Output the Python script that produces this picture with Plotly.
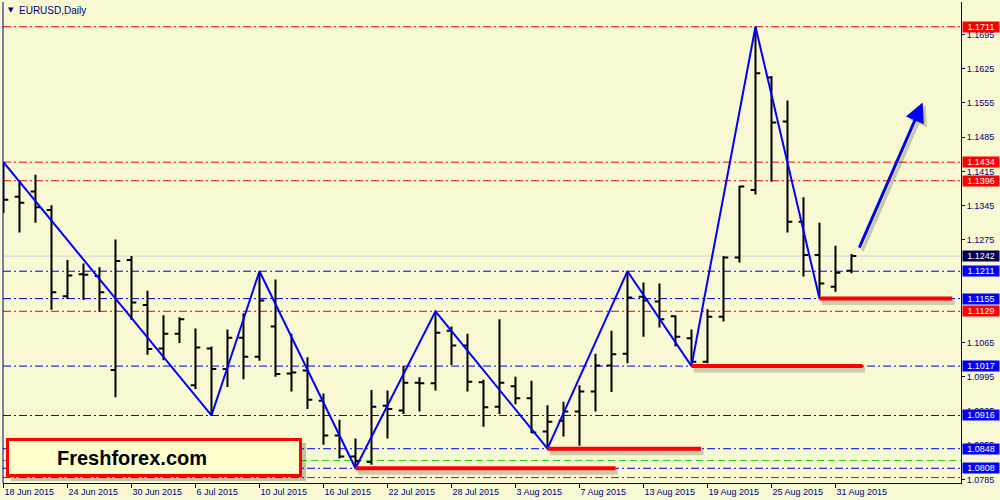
import plotly.graph_objects as go

# ---------------- data ----------------
dates = ["2015-06-18", "2015-06-19", "2015-06-22", "2015-06-23", "2015-06-24", "2015-06-25",
         "2015-06-26", "2015-06-29", "2015-06-30", "2015-07-01", "2015-07-02", "2015-07-03",
         "2015-07-06", "2015-07-07", "2015-07-08", "2015-07-09", "2015-07-10", "2015-07-13",
         "2015-07-14", "2015-07-15", "2015-07-16", "2015-07-17", "2015-07-20", "2015-07-21",
         "2015-07-22", "2015-07-23", "2015-07-24", "2015-07-27", "2015-07-28", "2015-07-29",
         "2015-07-30", "2015-07-31", "2015-08-03", "2015-08-04", "2015-08-05", "2015-08-06",
         "2015-08-07", "2015-08-10", "2015-08-11", "2015-08-12", "2015-08-13", "2015-08-14",
         "2015-08-17", "2015-08-18", "2015-08-19", "2015-08-20", "2015-08-21", "2015-08-24",
         "2015-08-25", "2015-08-26", "2015-08-27", "2015-08-28", "2015-08-31", "2015-09-01"]

opens = [1.1335, 1.1363, 1.1374, 1.1336, 1.1160, 1.1205, 1.1201, 1.1009, 1.1234, 1.1142,
         1.1053, 1.1083, 1.0978, 1.1053, 1.1011, 1.1075, 1.1036, 1.1098, 1.1002, 1.1008,
         1.0946, 1.0875, 1.0832, 1.0821, 1.0936, 1.0926, 1.0983, 1.0982, 1.1089, 1.1059,
         1.0984, 1.0934, 1.0976, 1.0951, 1.0883, 1.0905, 1.0924, 1.0965, 1.1018, 1.1042,
         1.1159, 1.1149, 1.1119, 1.1074, 1.1026, 1.1118, 1.1239, 1.1377, 1.1607, 1.1517,
         1.1312, 1.1244, 1.1179, 1.1212]
highs = [1.1434, 1.1396, 1.1408, 1.1346, 1.1234, 1.1227, 1.1219, 1.1276, 1.1242, 1.1171,
         1.1121, 1.1117, 1.1094, 1.1057, 1.1092, 1.1125, 1.1211, 1.1194, 1.1083, 1.1035,
         1.0961, 1.0907, 1.0869, 1.0968, 1.0967, 1.1017, 1.0994, 1.1129, 1.1098, 1.1083,
         1.0989, 1.1113, 1.0995, 1.0987, 1.0937, 1.0944, 1.0978, 1.1042, 1.1089, 1.1211,
         1.1188, 1.1186, 1.1121, 1.1092, 1.1133, 1.1242, 1.1386, 1.1711, 1.1610, 1.1560,
         1.1362, 1.1310, 1.1263, 1.1246]
lows = [1.1330, 1.1290, 1.1310, 1.1132, 1.1154, 1.1152, 1.1128, 1.0953, 1.1111, 1.1040,
        1.1029, 1.1064, 1.0970, 1.0916, 1.0974, 1.0990, 1.1028, 1.0995, 1.0965, 1.0929,
        1.0856, 1.0828, 1.0808, 1.0815, 1.0869, 1.0919, 1.0924, 1.0967, 1.1019, 1.0965,
        1.0893, 1.0919, 1.0939, 1.0880, 1.0848, 1.0873, 1.0854, 1.0924, 1.0964, 1.1023,
        1.1077, 1.1096, 1.1057, 1.1017, 1.1023, 1.1108, 1.1229, 1.1368, 1.1394, 1.1290,
        1.1200, 1.1155, 1.1169, 1.1207]
closes = [1.1357, 1.1351, 1.1342, 1.1168, 1.1202, 1.1204, 1.1168, 1.1232, 1.1147, 1.1052,
          1.1083, 1.1113, 1.1055, 1.1011, 1.1075, 1.1036, 1.1151, 1.1001, 1.1004, 1.0948,
          1.0875, 1.0832, 1.0823, 1.0934, 1.0929, 1.0983, 1.0982, 1.1085, 1.1059, 1.0985,
          1.0933, 1.0983, 1.0951, 1.0881, 1.0903, 1.0924, 1.0965, 1.1018, 1.1041, 1.1157,
          1.1151, 1.1113, 1.1077, 1.1026, 1.1118, 1.1239, 1.1384, 1.1616, 1.1515, 1.1312,
          1.1244, 1.1186, 1.1208, 1.1242]

zigzag_dates = ["2015-06-18", "2015-07-07", "2015-07-10", "2015-07-20", "2015-07-27",
                "2015-08-05", "2015-08-12", "2015-08-18", "2015-08-24", "2015-08-28"]
zigzag_prices = [1.1434, 1.0916, 1.1211, 1.0808, 1.1129, 1.0848, 1.1211, 1.1017, 1.1711, 1.1155]

tick_dates = ["2015-06-18", "2015-06-24", "2015-06-30", "2015-07-06", "2015-07-10",
              "2015-07-16", "2015-07-22", "2015-07-28", "2015-08-03", "2015-08-07",
              "2015-08-13", "2015-08-19", "2015-08-25", "2015-08-31"]
tick_labels = ["18 Jun 2015", "24 Jun 2015", "30 Jun 2015", "6 Jul 2015", "10 Jul 2015",
               "16 Jul 2015", "22 Jul 2015", "28 Jul 2015", "3 Aug 2015", "7 Aug 2015",
               "13 Aug 2015", "19 Aug 2015", "25 Aug 2015", "31 Aug 2015"]

# price scale ticks (1.1205 and 1.1135 are fully covered by level labels in the original)
price_ticks = [1.0785, 1.0855, 1.0925, 1.0995, 1.1065, 1.1275,
               1.1345, 1.1415, 1.1485, 1.1555, 1.1625, 1.1695]

red_levels = [1.1711, 1.1434, 1.1396, 1.1129]
blue_levels = [1.1211, 1.1155, 1.1017, 1.0916, 1.0848, 1.0808]
green_level = 1.0824
low_red_level = 1.0789
bid_price = 1.1242

support_levels = [1.0808, 1.0848, 1.1017, 1.1155]
support_start_dates = ["2015-07-20", "2015-08-05", "2015-08-18", "2015-08-28"]

# ---------------- styles / layout ----------------
BG = "#F8F8D3"
NAVY = "#00007A"
RED = "#EE0000"
BLUE = "#0000EE"
DASHDOT = "8px,3px,2px,3px"
FONT = "Liberation Sans"

W, H = 1000, 500
ML, MR, MT, MB = 3, 39, 2, 17
PW, PH = W - ML - MR, H - MT - MB


def px_x(px):
    return (px - ML) / PW


def px_y(py):
    return (H - MB - py) / PH


idx = list(range(len(dates)))
pos = {d: i for i, d in enumerate(dates)}

fig = go.Figure()

fig.add_trace(go.Ohlc(
    x=idx, open=opens, high=highs, low=lows, close=closes,
    increasing=dict(line=dict(color="black", width=2)),
    decreasing=dict(line=dict(color="black", width=2)),
    tickwidth=0.3, showlegend=False, hoverinfo="skip"))

fig.add_trace(go.Scatter(
    x=[pos[d] for d in zigzag_dates], y=zigzag_prices, mode="lines",
    line=dict(color="#0000FF", width=2), showlegend=False, hoverinfo="skip"))

shapes = []
# level lines
for v in red_levels:
    shapes.append(dict(type="line", xref="paper", x0=0, x1=1, yref="y", y0=v, y1=v,
                       line=dict(color=RED, width=1, dash=DASHDOT), layer="below"))
for v in blue_levels:
    shapes.append(dict(type="line", xref="paper", x0=0, x1=1, yref="y", y0=v, y1=v,
                       line=dict(color=BLUE, width=1, dash=DASHDOT), layer="below"))
shapes.append(dict(type="line", xref="paper", x0=0, x1=1, yref="y", y0=green_level, y1=green_level,
                   line=dict(color="#22CC22", width=1, dash="7px,4px"), layer="below"))
shapes.append(dict(type="line", xref="paper", x0=0, x1=1, yref="y", y0=low_red_level, y1=low_red_level,
                   line=dict(color=RED, width=1, dash=DASHDOT), layer="below"))
shapes.append(dict(type="line", xref="paper", x0=0, x1=1, yref="y", y0=bid_price, y1=bid_price,
                   line=dict(color="#D2D2D2", width=1), layer="below"))

# thick red support segments (with soft shadow)
seg_lengths = [16.25, 9.6, 10.7, 8.3]
for d, v, ln in zip(support_start_dates, support_levels, seg_lengths):
    x0 = pos[d]
    shapes.append(dict(type="line", xref="x", yref="y", x0=x0 + 0.15, x1=x0 + ln + 0.15,
                       y0=v - 0.0007, y1=v - 0.0007,
                       line=dict(color="rgba(0,0,0,0.18)", width=6)))
    shapes.append(dict(type="line", xref="x", yref="y", x0=x0, x1=x0 + ln, y0=v, y1=v,
                       line=dict(color="#FF0000", width=4)))

# left border
shapes.append(dict(type="line", xref="paper", yref="paper", x0=0, x1=0, y0=0, y1=1,
                   line=dict(color=NAVY, width=1)))

# Freshforex logo box (shadow + box)
shapes.append(dict(type="rect", xref="paper", yref="paper",
                   x0=px_x(11), x1=px_x(306), y0=px_y(481), y1=px_y(443),
                   fillcolor="rgba(0,0,0,0.22)", line=dict(width=0)))
shapes.append(dict(type="rect", xref="paper", yref="paper",
                   x0=px_x(7.5), x1=px_x(300.5), y0=px_y(475.5), y1=px_y(439.5),
                   fillcolor="#FFFFCC", line=dict(color="#FF0000", width=3)))

annotations = []
annotations.append(dict(xref="paper", yref="paper", x=px_x(132), y=px_y(458),
                        text="<b>Freshforex.com</b>", showarrow=False,
                        font=dict(family=FONT, size=20, color="black"),
                        xanchor="center", yanchor="middle"))

# title
annotations.append(dict(xref="paper", yref="paper", x=px_x(6), y=px_y(10.5),
                        text="▼", showarrow=False, font=dict(family="DejaVu Sans", size=7, color=NAVY),
                        xanchor="left", yanchor="middle"))
annotations.append(dict(xref="paper", yref="paper", x=px_x(17), y=px_y(10.5),
                        text="EURUSD,Daily", showarrow=False,
                        font=dict(family=FONT, size=10, color=NAVY),
                        xanchor="left", yanchor="middle"))

# blue arrow (shadow + arrow)
arrow_tail = (53.45, 1.1256)
arrow_tip = (57.45, 1.1556)
annotations.append(dict(xref="x", yref="y", axref="x", ayref="y",
                        x=arrow_tip[0], y=arrow_tip[1], ax=arrow_tail[0], ay=arrow_tail[1],
                        text="", showarrow=True, arrowhead=2, arrowsize=1.3, arrowwidth=3,
                        arrowcolor="rgba(0,0,0,0.2)", xshift=3, yshift=-3))
annotations.append(dict(xref="x", yref="y", axref="x", ayref="y",
                        x=arrow_tip[0], y=arrow_tip[1], ax=arrow_tail[0], ay=arrow_tail[1],
                        text="", showarrow=True, arrowhead=2, arrowsize=1.3, arrowwidth=3,
                        arrowcolor="#0000FF"))

# right-hand price labels
label_items = ([(v, "#FF0000") for v in red_levels] + [(v, "#0000FF") for v in blue_levels]
               + [(bid_price, "#000050")])
for v, c in label_items:
    annotations.append(dict(xref="paper", yref="y", x=1, y=v, xanchor="left", yanchor="middle",
                            xshift=1, text=f"{v:.4f}", showarrow=False, bgcolor=c,
                            width=36, height=10, borderpad=0, align="center",
                            font=dict(family=FONT, size=9, color="white")))

fig.update_layout(
    width=W, height=H, autosize=False,
    margin=dict(l=ML, r=MR, t=MT, b=MB),
    paper_bgcolor=BG, plot_bgcolor=BG,
    shapes=shapes, annotations=annotations,
    showlegend=False,
    xaxis=dict(range=[-0.03, PW / 16 - 0.03], tickvals=[pos[d] for d in tick_dates],
               ticktext=tick_labels, ticks="outside", ticklen=4, tickcolor=NAVY,
               ticklabelposition="outside right", showline=True, linecolor=NAVY, linewidth=1,
               showgrid=False, zeroline=False, rangeslider=dict(visible=False),
               tickfont=dict(family=FONT, size=9, color=NAVY), fixedrange=True),
    yaxis=dict(side="right", range=[1.07779, 1.17615], tickvals=price_ticks,
               ticktext=[f"{t:.4f}" for t in price_ticks], ticks="outside", ticklen=3,
               tickcolor=NAVY, showline=True, linecolor=NAVY, linewidth=1,
               showgrid=False, zeroline=False,
               tickfont=dict(family=FONT, size=9, color=NAVY), fixedrange=True),
)

fig.write_html("out.html", config={"displayModeBar": False},
               post_script="document.body.style.margin='0';document.body.style.overflow='hidden';")
